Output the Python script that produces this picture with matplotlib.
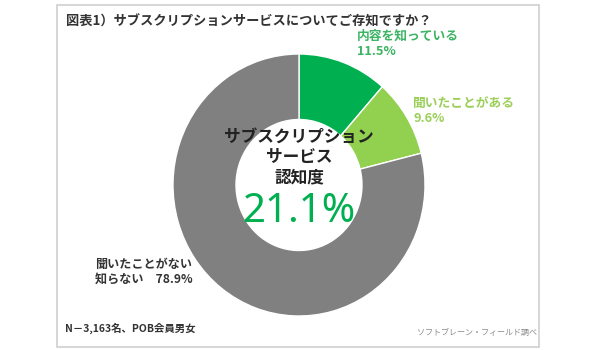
import matplotlib.pyplot as plt
from matplotlib.patches import Rectangle

plt.rcParams['font.family'] = ['Noto Sans CJK JP', 'DejaVu Sans']

# 認知度の内訳（%）
labels = ['内容を知っている', '聞いたことがある', '聞いたことがない\n知らない']
values = [11.5, 9.6, 78.9]
colors = ['#00b050', '#92d050', '#808080']
awareness = values[0] + values[1]

fig = plt.figure(figsize=(6, 3.5), dpi=100)

# 外枠
fig.patches.append(Rectangle((57 / 600, 3 / 350), 482 / 600, 342 / 350,
                             transform=fig.transFigure, fill=False,
                             edgecolor='#cfcfcf', linewidth=1.2))

# ドーナツグラフ
cx, cy, rx, ry = 299, 185, 126, 131
ax = fig.add_axes([(cx - rx) / 600, (350 - cy - ry) / 350, 2 * rx / 600, 2 * ry / 350])
ax.pie(values, colors=colors, startangle=90, counterclock=False, radius=1.0,
       wedgeprops=dict(width=0.5, edgecolor='white', linewidth=1))
ax.set_aspect('auto')
ax.set_xlim(-1, 1)
ax.set_ylim(-1, 1)
ax.axis('off')

# タイトル
fig.text(66 / 600, 1 - 22 / 350, '図表1）サブスクリプションサービスについてご存知ですか？',
         fontsize=9.5, fontweight='bold', color='#333333', va='center', ha='left')

# 中央のテキスト
for txt, y in [('サブスクリプション', 137), ('サービス', 157), ('認知度', 177)]:
    fig.text(cx / 600, 1 - y / 350, txt, fontsize=12, fontweight='bold',
             color='#222222', ha='center', va='center')
fig.text(cx / 600, 1 - 212 / 350, f'{awareness:.1f}%', fontsize=29,
         color='#00b050', ha='center', va='center', family=['Noto Sans', 'DejaVu Sans'])

# 各項目のラベル
fig.text(357 / 600, 1 - 44 / 350, f'{labels[0]}\n{values[0]}%', fontsize=9.2,
         fontweight='bold', color='#3cb464', ha='left', va='center', linespacing=1.2)
fig.text(413 / 600, 1 - 111 / 350, f'{labels[1]}\n{values[1]}%', fontsize=9.2,
         fontweight='bold', color='#9ccf5a', ha='left', va='center', linespacing=1.2)
fig.text(95 / 600, 1 - 272 / 350, '聞いたことがない\n知らない　' + f'{values[2]}%',
         fontsize=8.7, fontweight='bold', color='#333333', ha='left', va='center',
         linespacing=1.2)

# 注記
fig.text(65 / 600, 1 - 328 / 350, 'N－3,163名、POB会員男女', fontsize=7.5,
         fontweight='bold', color='#333333', ha='left', va='center')
fig.text(537 / 600, 1 - 332 / 350, 'ソフトブレーン・フィールド調べ', fontsize=5.8,
         color='#888888', ha='right', va='center')

fig.savefig('out.png', dpi=100)
